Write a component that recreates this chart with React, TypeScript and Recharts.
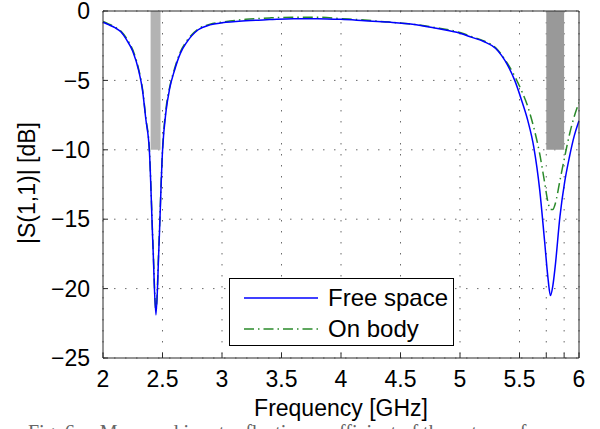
import {
  LineChart,
  Line,
  XAxis,
  YAxis,
  CartesianGrid,
  ReferenceArea,
  Legend,
} from 'recharts'

const freq = [
  2.0, 2.05, 2.1, 2.15, 2.2, 2.25, 2.3, 2.33, 2.36, 2.39, 2.42, 2.445, 2.47, 2.5, 2.53,
  2.56, 2.6, 2.65, 2.7, 2.8, 2.9, 3.0, 3.2, 3.4, 3.6, 3.8, 4.0, 4.2, 4.4, 4.6, 4.8, 5.0,
  5.1, 5.2, 5.3, 5.4, 5.46, 5.52, 5.57, 5.62, 5.67, 5.71, 5.74, 5.76, 5.78, 5.8, 5.84,
  5.88, 5.92, 5.96, 6.0,
]

const freeSpace = [
  -0.8, -1.0, -1.2, -1.5, -2.1, -2.9, -4.3, -5.6, -7.8, -10.1, -17.0, -21.9, -17.0, -10.1,
  -7.2, -5.6, -4.3, -3.05, -2.3, -1.35, -1.0, -0.85, -0.7, -0.62, -0.55, -0.55, -0.6, -0.7,
  -0.8, -0.95, -1.25, -1.6, -1.9, -2.2, -2.7, -3.9, -5.0, -6.5, -7.9, -9.8, -12.9, -16.5,
  -19.3, -20.5, -19.8, -18.4, -14.8, -12.3, -10.5, -9.0, -7.9,
]

const onBody = [
  -0.75, -0.95, -1.15, -1.45, -2.0, -2.8, -4.2, -5.5, -7.7, -10.0, -16.8, -21.6, -16.8,
  -10.0, -7.0, -5.5, -4.2, -2.95, -2.2, -1.3, -0.95, -0.8, -0.6, -0.5, -0.45, -0.45, -0.55,
  -0.65, -0.8, -0.95, -1.2, -1.55, -1.85, -2.15, -2.65, -3.8, -4.7, -5.8, -6.9, -8.4,
  -10.3, -12.3, -13.8, -14.3, -14.3, -13.9, -12.2, -10.5, -8.9, -7.6, -6.6,
]

const xTicks = [2, 2.5, 3, 3.5, 4, 4.5, 5, 5.5, 5.725, 5.875, 6]
const yTicks = [-25, -20, -15, -10, -5, 0]
const bands = [
  { from: 2.4, to: 2.4835, color: '#b3b3b3' },
  { from: 5.725, to: 5.875, color: '#999999' },
]

const data = freq.map((f, i) => ({ f, free: freeSpace[i], body: onBody[i] }))

const font = '"Liberation Sans", Arial, Helvetica, sans-serif'
const frame = '#2b2b2b'

// the two band-edge ticks get grid lines and tick marks but no labels
const fmtX = (v: number) => (v === 5.725 || v === 5.875 ? '' : String(v))
const fmtY = (v: number) => String(v).replace('-', '\u2212')

function LegendBox() {
  const row = (label: string, color: string, dash?: string) => (
    <div style={{ display: 'flex', alignItems: 'center', height: 31 }}>
      <svg width={90} height={10}>
        <line x1={14} y1={5} x2={88} y2={5} stroke={color} strokeWidth={1.5} strokeDasharray={dash} />
      </svg>
      <span style={{ marginLeft: 8, fontSize: 24, color: '#000' }}>{label}</span>
    </div>
  )
  return (
    <div
      style={{
        width: 225,
        height: 68,
        border: '1px solid #000',
        background: '#fff',
        fontFamily: font,
        boxSizing: 'border-box',
        paddingTop: 3,
      }}
    >
      {row('Free space', '#0000ff')}
      {row('On body', '#2a8a2a', '10 4 1.5 4')}
    </div>
  )
}

export default function App() {
  return (
    <div style={{ position: 'absolute', left: 0, top: 0, width: 600, height: 429, background: '#fff', overflow: 'hidden' }}>
      <LineChart
        width={600}
        height={429}
        data={data}
        margin={{ top: 11, right: 21, left: 33, bottom: 9 }}
      >
        <CartesianGrid stroke="#6a6a6a" strokeDasharray="1.5 9.5" />
        {bands.map((b) => (
          <ReferenceArea key={b.from} x1={b.from} x2={b.to} y1={-10} y2={0} fill={b.color} fillOpacity={1} stroke="none" ifOverflow="hidden" />
        ))}
        <XAxis
          dataKey="f"
          type="number"
          domain={[2, 6]}
          ticks={xTicks}
          interval={0}
          allowDataOverflow
          height={62}
          tickSize={-5}
          tickMargin={18}
          tickFormatter={fmtX}
          axisLine={{ stroke: frame }}
          tickLine={{ stroke: frame }}
          tick={{ fill: '#000', fontSize: 23, fontFamily: font }}
          label={{ value: 'Frequency [GHz]', position: 'insideBottom', offset: 4, fill: '#000', fontSize: 23, fontFamily: font }}
        />
        <XAxis
          xAxisId="top"
          orientation="top"
          dataKey="f"
          type="number"
          domain={[2, 6]}
          ticks={xTicks}
          interval={0}
          mirror
          height={1}
          tick={false}
          tickSize={5}
          axisLine={{ stroke: frame }}
          tickLine={{ stroke: frame }}
        />
        <YAxis
          type="number"
          domain={[-25, 0]}
          ticks={yTicks}
          interval={0}
          width={70}
          tickSize={-5}
          tickMargin={18}
          tickFormatter={fmtY}
          axisLine={{ stroke: frame }}
          tickLine={{ stroke: frame }}
          tick={{ fill: '#000', fontSize: 23, fontFamily: font }}
        />
        <YAxis
          yAxisId="right"
          orientation="right"
          type="number"
          domain={[-25, 0]}
          ticks={yTicks}
          interval={0}
          mirror
          width={1}
          tick={false}
          tickSize={5}
          axisLine={{ stroke: frame }}
          tickLine={{ stroke: frame }}
        />
        <Legend
          verticalAlign="middle"
          align="center"
          wrapperStyle={{ left: 229, top: 278, width: 225 }}
          content={() => <LegendBox />}
        />
        <Line
          type="monotone"
          dataKey="body"
          stroke="#2a8a2a"
          strokeWidth={1.5}
          strokeDasharray="10 4 1.5 4"
          dot={false}
          isAnimationActive={false}
        />
        <Line
          type="monotone"
          dataKey="free"
          stroke="#0000ff"
          strokeWidth={1.5}
          dot={false}
          isAnimationActive={false}
        />
      </LineChart>
      <div
        style={{
          position: 'absolute',
          left: 27,
          top: 183,
          transform: 'translate(-50%, -50%) rotate(-90deg)',
          fontFamily: font,
          fontSize: 23,
          whiteSpace: 'nowrap',
          color: '#000',
        }}
      >
        |S(1,1)| [dB]
      </div>
      <div
        style={{
          position: 'absolute',
          left: 28,
          top: 422,
          fontFamily: '"Liberation Serif", "Times New Roman", serif',
          fontSize: 20,
          lineHeight: '20px',
          whiteSpace: 'nowrap',
          color: '#666',
        }}
      >
        Fig. 6.&nbsp;&nbsp;&nbsp; Measured input reflection coefficient of the antenna for
      </div>
    </div>
  )
}
